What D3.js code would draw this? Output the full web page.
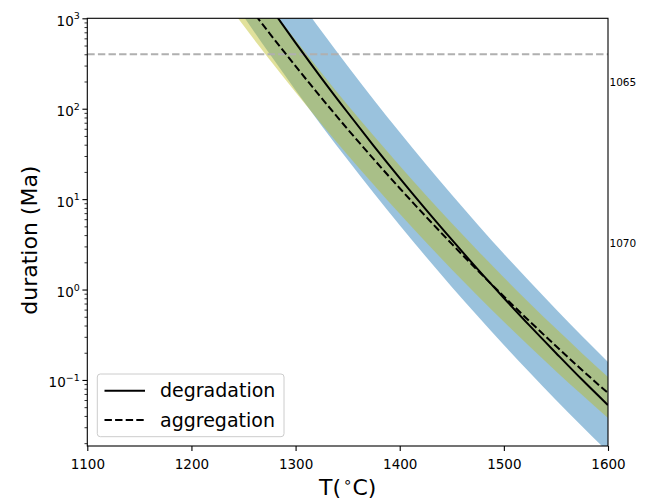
<!DOCTYPE html>
<html>
<head>
<meta charset="utf-8">
<script src="https://cdn.jsdelivr.net/npm/d3@7"></script>
<style>
  body { margin: 0; background: #fff; }
  svg { display: block; }
  text { font-family: "DejaVu Sans", sans-serif; }
</style>
</head>
<body>
<svg id="chart" width="646" height="499"></svg>
<script>
// Temperature grid (°C) and durations (Ma) for each process
const temps = [1225, 1250, 1275, 1300, 1325, 1350, 1375, 1400, 1425, 1450, 1475, 1500, 1525, 1550, 1575, 1600];

const degradation     = [9570, 3550, 1358, 535, 217, 90.8, 38.9, 17.1, 7.71, 3.56, 1.67, 0.807, 0.396, 0.199, 0.101, 0.0527];
const degradationLow  = [2844, 1054, 405, 160, 65.0, 27.2, 11.7, 5.14, 2.32, 1.07, 0.505, 0.243, 0.120, 0.0600, 0.0307, 0.0160];
const degradationHigh = [33000, 12100, 4580, 1786, 718, 297, 126, 55.0, 24.5, 11.2, 5.22, 2.49, 1.22, 0.605, 0.306, 0.158];

const aggregation     = [3970, 1622, 682, 295, 131, 59.4, 27.7, 13.2, 6.43, 3.20, 1.62, 0.839, 0.442, 0.237, 0.129, 0.0716];
const aggregationLow  = [2023, 830, 350, 152, 67.5, 30.8, 14.4, 6.87, 3.36, 1.67, 0.851, 0.441, 0.233, 0.125, 0.0684, 0.0379];
const aggregationHigh = [8430, 3340, 1371, 575, 249, 110, 50.2, 23.4, 11.1, 5.42, 2.69, 1.36, 0.703, 0.370, 0.198, 0.108];

// Reference duration (Ma) marked by the grey dashed line
const referenceDuration = 400;

// Axis limits and ticks
const xDomain = [1100, 1600];
const yDomain = [0.0186, 1000];
const xTicks = [1100, 1200, 1300, 1400, 1500, 1600];
const yMajorTicks = [0.1, 1, 10, 100, 1000];
const yTickExponents = ["\u22121", "0", "1", "2", "3"];
const altDomain = [1063, 1076.3];
const altTicks = [1065, 1070];

const legendLabels = ["degradation", "aggregation"];

const svg = d3.select("#chart");
const m = { left: 87.3, right: 608, top: 18.3, bottom: 446 };

const x = d3.scaleLinear().domain(xDomain).range([m.left, m.right]);
const y = d3.scaleLog().domain(yDomain).range([m.bottom, m.top]);
const yAlt = d3.scaleLinear().domain(altDomain).range([m.top, m.bottom]);

svg.append("defs").append("clipPath").attr("id", "plot-clip")
  .append("rect")
  .attr("x", m.left).attr("y", m.top)
  .attr("width", m.right - m.left).attr("height", m.bottom - m.top);

const plot = svg.append("g").attr("clip-path", "url(#plot-clip)");

// Uncertainty bands
const bandArea = d3.area()
  .x(d => x(d.t))
  .y0(d => y(d.lo))
  .y1(d => y(d.hi))
  .curve(d3.curveMonotoneX);

const degBand = temps.map((t, i) => ({ t, lo: degradationLow[i], hi: degradationHigh[i] }));
const aggBand = temps.map((t, i) => ({ t, lo: aggregationLow[i], hi: aggregationHigh[i] }));

plot.append("path").datum(degBand)
  .attr("d", bandArea)
  .attr("fill", "#1f77b4").attr("fill-opacity", 0.45);

plot.append("path").datum(aggBand)
  .attr("d", bandArea)
  .attr("fill", "#bcbd22").attr("fill-opacity", 0.45);

// Reference line
plot.append("line")
  .attr("x1", x(xDomain[0])).attr("x2", x(xDomain[1]))
  .attr("y1", y(referenceDuration)).attr("y2", y(referenceDuration))
  .attr("stroke", "#b0b0b0").attr("stroke-width", 2)
  .attr("stroke-dasharray", "7.4,3.2");

// Central curves
const curve = d3.line()
  .x(d => x(d.t))
  .y(d => y(d.v))
  .curve(d3.curveMonotoneX);

plot.append("path")
  .datum(temps.map((t, i) => ({ t, v: degradation[i] })))
  .attr("d", curve)
  .attr("fill", "none").attr("stroke", "#000").attr("stroke-width", 2);

plot.append("path")
  .datum(temps.map((t, i) => ({ t, v: aggregation[i] })))
  .attr("d", curve)
  .attr("fill", "none").attr("stroke", "#000").attr("stroke-width", 2)
  .attr("stroke-dasharray", "7.4,3.2");

// Frame
svg.append("rect")
  .attr("x", m.left).attr("y", m.top)
  .attr("width", m.right - m.left).attr("height", m.bottom - m.top)
  .attr("fill", "none").attr("stroke", "#000").attr("stroke-width", 1.1);

// X axis
const xAxis = svg.append("g")
  .attr("transform", `translate(0,${m.bottom})`)
  .call(d3.axisBottom(x).tickValues(xTicks).tickSize(4.9).tickFormat(d3.format("d")));
xAxis.select(".domain").remove();
xAxis.selectAll(".tick line").attr("stroke", "#000").attr("stroke-width", 1.1);
xAxis.selectAll(".tick text")
  .attr("y", 22.5).attr("dy", 0)
  .attr("font-size", "13.5px").attr("fill", "#000")
  .style("font-family", "'DejaVu Sans', sans-serif");

// Y axis: major ticks
const yAxis = svg.append("g")
  .attr("transform", `translate(${m.left},0)`)
  .call(d3.axisLeft(y).tickValues(yMajorTicks).tickSize(4.9).tickFormat(""));
yAxis.select(".domain").remove();
yAxis.selectAll(".tick line").attr("stroke", "#000").attr("stroke-width", 1.1);

// Y axis: minor ticks
const yMinor = y.ticks().filter(v => !yMajorTicks.some(t => Math.abs(t - v) / t < 1e-9));
const yAxisMinor = svg.append("g")
  .attr("transform", `translate(${m.left},0)`)
  .call(d3.axisLeft(y).tickValues(yMinor).tickSize(2.8).tickFormat(""));
yAxisMinor.select(".domain").remove();
yAxisMinor.selectAll(".tick line").attr("stroke", "#000").attr("stroke-width", 0.8);

// Y tick labels as powers of ten
const yLabels = svg.append("g");
yMajorTicks.forEach((v, i) => {
  const t = yLabels.append("text")
    .attr("x", m.left - 7.5)
    .attr("y", y(v) + 7.5)
    .attr("text-anchor", "end")
    .attr("font-size", "13.5px")
    .attr("fill", "#000");
  t.append("tspan").text("10");
  t.append("tspan").attr("font-size", "9.5px").attr("dy", -6.5).text(yTickExponents[i]);
});

// Labels along the right edge
svg.append("g").selectAll("text").data(altTicks).join("text")
  .attr("x", m.right + 1.5)
  .attr("y", d => yAlt(d) + 3.8)
  .attr("font-size", "10.5px")
  .attr("fill", "#000")
  .text(d => d);

// Axis titles
const xTitle = svg.append("text")
  .attr("x", (m.left + m.right) / 2)
  .attr("y", 495)
  .attr("text-anchor", "middle")
  .attr("font-size", "22px")
  .attr("fill", "#000");
xTitle.append("tspan").text("T(");
xTitle.append("tspan").attr("font-size", "15px").attr("dy", -8).attr("dx", 2).text("\u2218");
xTitle.append("tspan").attr("dy", 8).text("C)");

svg.append("text")
  .attr("transform", `translate(37,${(m.top + m.bottom) / 2 + 8}) rotate(-90)`)
  .attr("text-anchor", "middle")
  .attr("font-size", "22px")
  .attr("fill", "#000")
  .text("duration (Ma)");

// Legend
const legend = svg.append("g");
legend.append("rect")
  .attr("x", 97.3).attr("y", 374)
  .attr("width", 186.7).attr("height", 62.7)
  .attr("rx", 3)
  .attr("fill", "#fff").attr("fill-opacity", 0.8)
  .attr("stroke", "#cccccc").attr("stroke-width", 1);

legendLabels.forEach((label, i) => {
  const cy = 390.7 + i * 29.3;
  legend.append("line")
    .attr("x1", 104.5).attr("x2", 145)
    .attr("y1", cy).attr("y2", cy)
    .attr("stroke", "#000").attr("stroke-width", 2)
    .attr("stroke-dasharray", i === 0 ? null : "7.4,3.2");
  legend.append("text")
    .attr("x", 160).attr("y", cy + 6.5)
    .attr("font-size", "19px")
    .attr("fill", "#000")
    .text(label);
});
</script>
</body>
</html>
